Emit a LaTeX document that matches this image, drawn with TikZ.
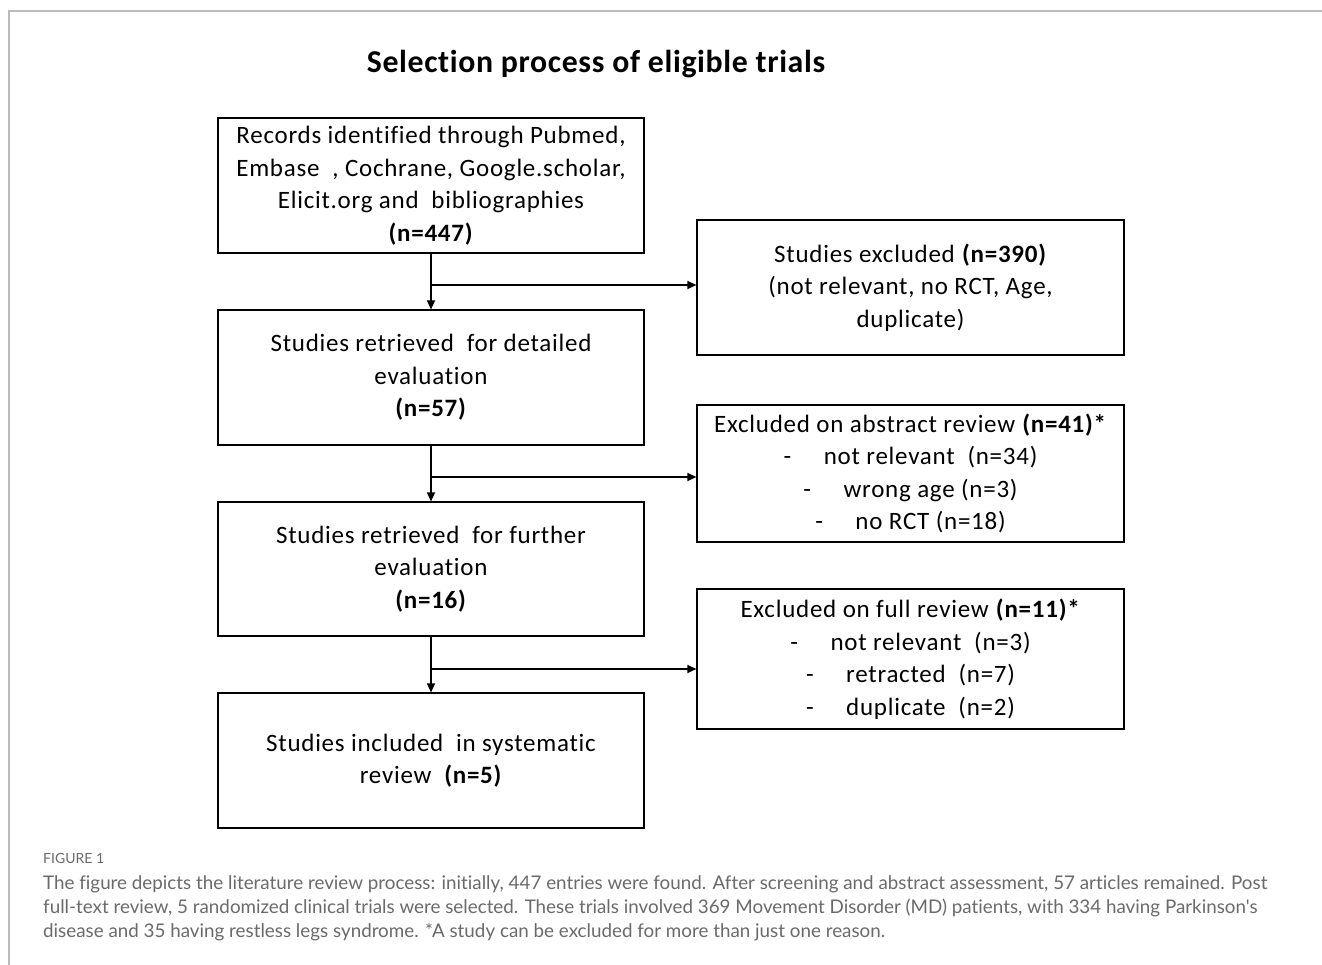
\documentclass[tikz,border=0pt]{standalone}
\usepackage{fontspec}
\setmainfont{Carlito}[Ligatures=NoCommon, LetterSpace=3]
\newfontfamily\titlefont{Carlito}[Ligatures=NoCommon, LetterSpace=2]
\newfontfamily\capfont{Lato}[Ligatures=NoCommon]
\usetikzlibrary{arrows.meta}
\definecolor{framegray}{HTML}{BBBBBB}
\definecolor{capgray}{HTML}{6A6A6A}
\tikzset{
  boxnode/.style={draw, line width=1.2pt, align=center, inner sep=0pt,
    minimum width=426pt, font=\fontsize{25}{32.5}\selectfont},
  flowarrow/.style={line width=1.2pt, -{Triangle[length=9pt,width=8pt]}},
  captext/.style={anchor=west, inner sep=0pt, text=capgray, font=\capfont\fontsize{18.8}{24}\selectfont},
}
\newcommand{\nb}[1]{\textbf{#1}}
\begin{document}
\begin{tikzpicture}[x=1pt,y=-1pt]
\useasboundingbox (0,0) rectangle (1322,965);
\fill[white] (0,0) rectangle (1322,965);
\draw[framegray, line width=2pt] (1322,11) -- (9,11) -- (9,965);

\node[font=\titlefont\bfseries\fontsize{31.8}{36}\selectfont, inner sep=0pt] (title) at (596,64) {Selection process of eligible trials};

\node[boxnode, minimum height=135pt] (b1) at (431,185.5) {Records identified through Pubmed,\\Embase\ \ , Cochrane, Google.scholar,\\Elicit.org and\ \ bibliographies\\\nb{(n=447)}};
\node[boxnode, minimum width=427pt, minimum height=135pt] (b2) at (910.5,287.5) {Studies excluded \nb{(n=390)}\\(not relevant, no RCT, Age,\\duplicate)};
\node[boxnode, minimum height=135pt] (b3) at (431,377.5) {Studies retrieved\ \ for detailed\\evaluation\\\nb{(n=57)}};
\node[boxnode, minimum width=427pt, minimum height=137pt] (b4) at (910.5,473.5) {Excluded on abstract review \nb{(n=41)*}\\-\hspace{1.3em}not relevant\ \ (n=34)\\-\hspace{1.3em}wrong age (n=3)\\-\hspace{1.3em}no RCT (n=18)};
\node[boxnode, minimum height=134pt] (b5) at (431,569) {Studies retrieved\ \ for further\\evaluation\\\nb{(n=16)}};
\node[boxnode, minimum width=427pt, minimum height=140pt] (b6) at (910.5,659) {Excluded on full review \nb{(n=11)*}\\-\hspace{1.3em}not relevant\ \ (n=3)\\-\hspace{1.3em}retracted\ \ (n=7)\\-\hspace{1.3em}duplicate\ \ (n=2)};
\node[boxnode, minimum height=135pt] (b7) at (431,760.5) {Studies included\ \ in systematic\\review\ \ \nb{(n=5)}};

\coordinate (j1) at (431,285);
\coordinate (j2) at (431,477);
\coordinate (j3) at (431,669);

\draw[flowarrow] (b1.south) -- (b3.north);
\draw[flowarrow] (b3.south) -- (b5.north);
\draw[flowarrow] (b5.south) -- (b7.north);
\draw[flowarrow] (j1) -- (b2.west |- j1);
\draw[flowarrow] (j2) -- (b4.west |- j2);
\draw[flowarrow] (j3) -- (b6.west |- j3);

\node[captext, font=\capfont\fontsize{14}{16}\selectfont] (fig) at (43,858) {FIGURE 1};
\node[captext] (c1) at (43,884) {The figure depicts the literature review process: initially, 447 entries were found. After screening and abstract assessment, 57 articles remained. Post};
\node[captext] (c2) at (43,908) {full-text review, 5 randomized clinical trials were selected. These trials involved 369 Movement Disorder (MD) patients, with 334 having Parkinson's};
\node[captext] (c3) at (43,932) {disease and 35 having restless legs syndrome. *A study can be excluded for more than just one reason.};
\end{tikzpicture}
\end{document}
